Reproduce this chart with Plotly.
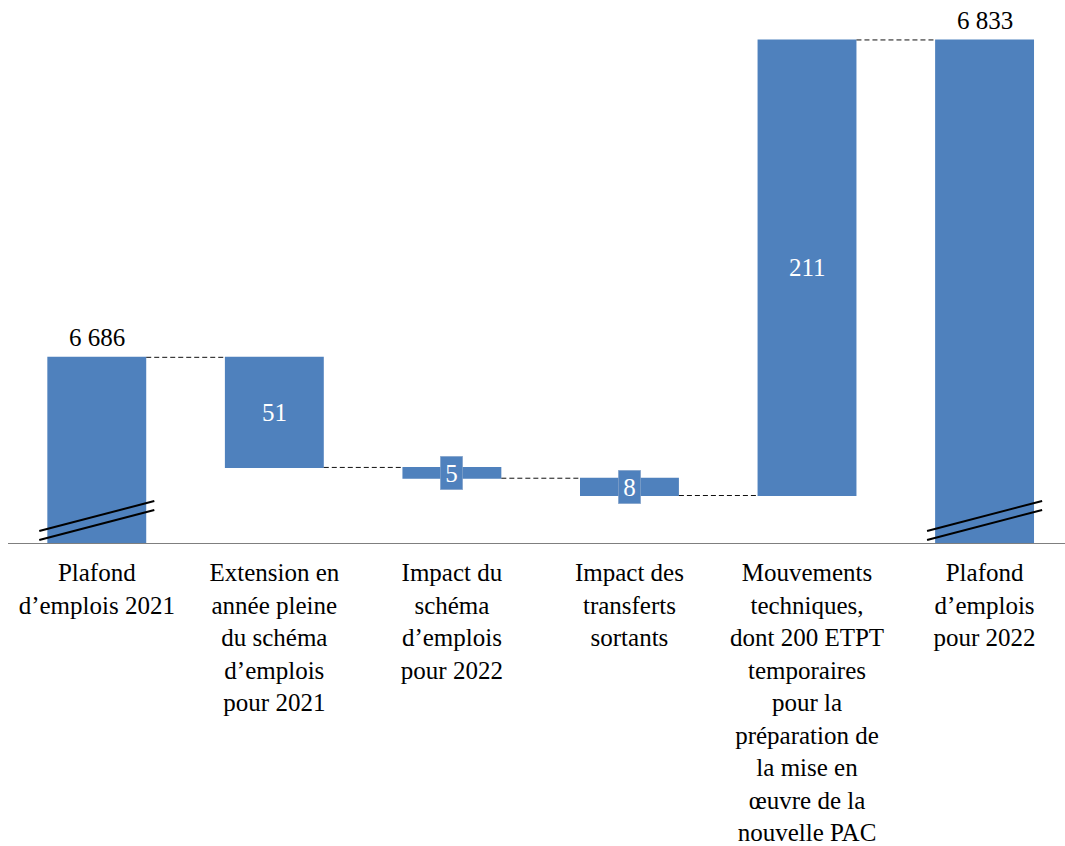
import plotly.graph_objects as go

# Waterfall of job ceiling (ETPT) from 2021 to 2022
categories = [
    "Plafond<br>d’emplois 2021",
    "Extension en<br>année pleine<br>du schéma<br>d’emplois<br>pour 2021",
    "Impact du<br>schéma<br>d’emplois<br>pour 2022",
    "Impact des<br>transferts<br>sortants",
    "Mouvements<br>techniques,<br>dont 200 ETPT<br>temporaires<br>pour la<br>préparation de<br>la mise en<br>œuvre de la<br>nouvelle PAC",
    "Plafond<br>d’emplois<br>pour 2022",
]
measures = ["absolute", "relative", "relative", "relative", "relative", "total"]
values = [6686, -51, -5, -8, 211, 6833]
boxed_labels = [False, False, True, True, False, False]

y_min, y_max = 6600, 6851.5
BLUE = "#4F81BD"
FONT = "'Liberation Serif', 'Times New Roman', Tinos, serif"
FS = 25
BAR_W = 0.557

x = list(range(len(categories)))
wf_values = [v if m != "total" else 0 for v, m in zip(values, measures)]

fig = go.Figure(go.Waterfall(
    x=x,
    y=wf_values,
    measure=measures,
    width=BAR_W,
    increasing=dict(marker=dict(color=BLUE)),
    decreasing=dict(marker=dict(color=BLUE)),
    totals=dict(marker=dict(color=BLUE)),
    connector=dict(mode="between", line=dict(color="#111111", width=1, dash="5px,3px")),
    hoverinfo="skip",
))

def fmt(v):
    return f"{abs(v):,}".replace(",", " ")

# value labels
level = 0
annotations = []
for i, (m, v) in enumerate(zip(measures, values)):
    if m in ("absolute", "total"):
        level = v
        annotations.append(dict(
            x=i, y=level, xref="x", yref="y", text=fmt(v), showarrow=False,
            yanchor="bottom", yshift=4, font=dict(family=FONT, size=FS, color="black"),
        ))
    else:
        start, level = level, level + v
        mid = (start + level) / 2
        ann = dict(
            x=i, y=mid, xref="x", yref="y", text=fmt(v), showarrow=False,
            font=dict(family=FONT, size=FS, color="white"),
        )
        if boxed_labels[i]:
            ann.update(bgcolor=BLUE, bordercolor="#9AB0CF", borderwidth=0.5,
                       borderpad=2, width=18, height=29)
        annotations.append(ann)

# axis-break marks across the two total bars
shapes = []
for i, m in enumerate(measures):
    if m in ("absolute", "total"):
        for y0 in (0.0055, 0.0221):
            shapes.append(dict(
                type="line", xref="x", yref="paper",
                x0=i - 0.324, x1=i + 0.324, y0=y0, y1=y0 + 0.0552,
                line=dict(color="black", width=2),
            ))

fig.update_layout(
    width=1065, height=846,
    margin=dict(l=8, r=0, t=0, b=303),
    paper_bgcolor="white", plot_bgcolor="white",
    showlegend=False,
    annotations=annotations,
    shapes=shapes,
    font=dict(family=FONT, size=FS, color="black"),
    xaxis=dict(
        range=[-0.5, 5.453], tickvals=x, ticktext=categories,
        showline=True, linecolor="#7F7F7F", linewidth=1,
        showgrid=False, zeroline=False, ticks="",
        ticklabelstandoff=7,
        tickfont=dict(family=FONT, size=FS, color="black"),
        fixedrange=True,
    ),
    yaxis=dict(
        range=[y_min, y_max], visible=False, showgrid=False, zeroline=False,
        fixedrange=True,
    ),
)

fig.write_html("out.html")
